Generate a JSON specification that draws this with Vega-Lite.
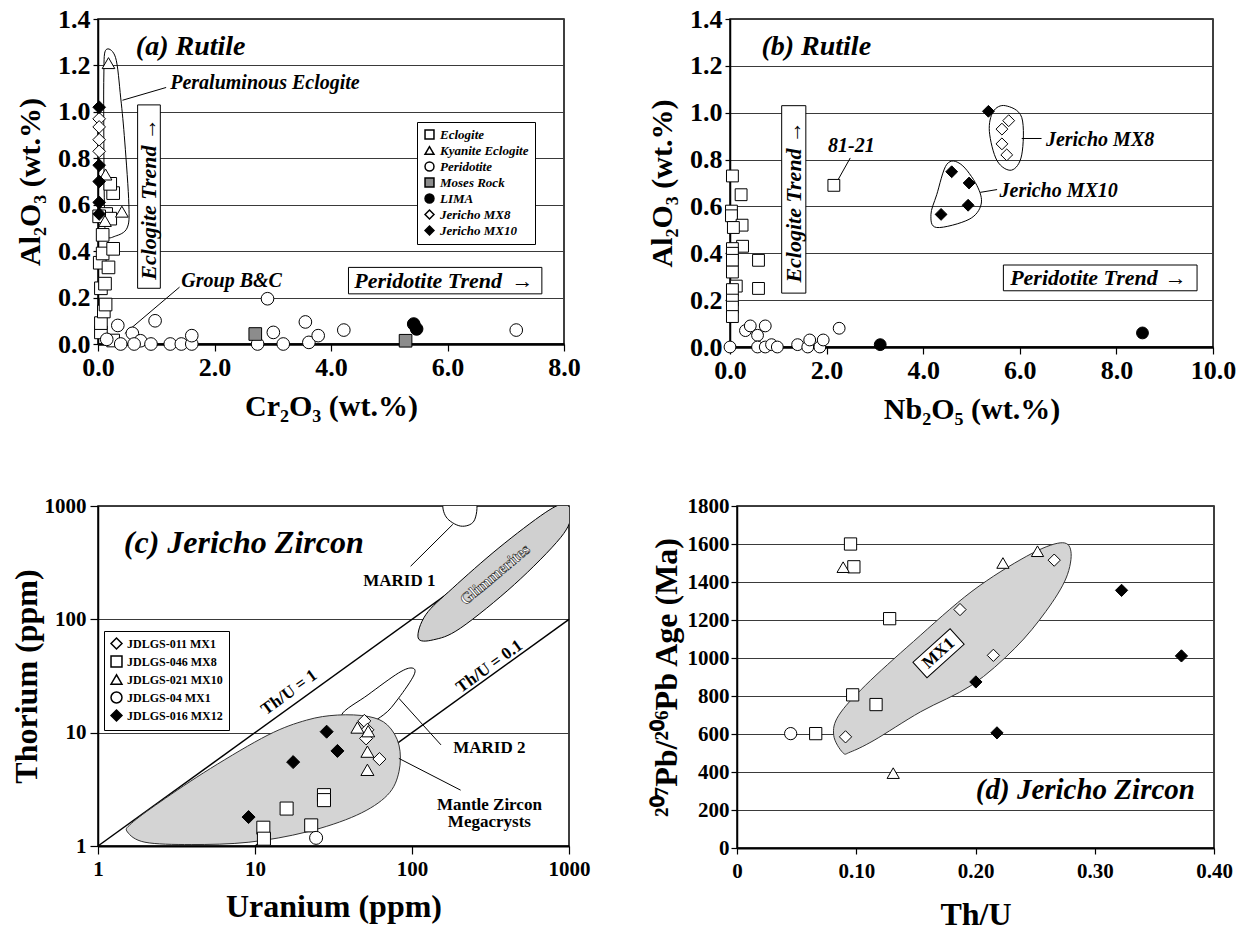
{
"$schema": "https://vega.github.io/schema/vega-lite/v6.json",
"background": "white",
"padding": {"left": 9, "top": 5, "right": 5, "bottom": 3},
"config": {
 "font": "Liberation Serif",
 "view": {"stroke": "black", "strokeWidth": 1.5},
 "axis": {"labelFont": "Liberation Serif", "titleFont": "Liberation Serif", "labelFontWeight": "bold", "titleFontWeight": "bold", "labelColor": "black", "titleColor": "black", "domainColor": "black", "tickColor": "black", "gridColor": "#3a3a3a", "gridWidth": 1, "gridOpacity": 1, "domainWidth": 1.5, "tickWidth": 1.2, "labelFlush": false, "labelOverlap": false},
 "text": {"font": "Liberation Serif", "fontWeight": "bold", "baseline": "middle", "color": "black"}
},
"resolve": {"scale": {"x": "independent", "y": "independent", "shape": "independent", "fill": "independent"}, "legend": {"shape": "independent", "fill": "independent"}},
"spacing": 69,
"vconcat": [
{
 "spacing": 65,
 "resolve": {"scale": {"x": "independent", "y": "independent", "shape": "independent", "fill": "independent"}, "legend": {"shape": "independent", "fill": "independent"}},
 "hconcat": [
 {
  "width": 466, "height": 325,
  "layer": [
   {
    "data": {"values": [{"x": 0.68, "x2": 1.07, "y": 0.24, "y2": 1.03}, {"x": 4.3, "x2": 7.62, "y": 0.216, "y2": 0.33}]},
    "mark": {"type": "rect", "fill": "white", "stroke": "black", "strokeWidth": 1},
    "encoding": {
     "x": {"field": "x", "type": "quantitative", "scale": {"domain": [0, 8], "nice": false, "zero": false}, "axis": {"title": "Cr₂O₃ (wt.%)", "values": [0, 2, 4, 6, 8], "format": ".1f", "grid": false, "labelFontSize": 26, "titleFontSize": 30, "tickSize": 7, "labelPadding": 3, "titlePadding": 11, "tickCount": 20, "domainWidth": 2.5}},
     "x2": {"field": "x2"},
     "y": {"field": "y", "type": "quantitative", "scale": {"domain": [0, 1.4], "nice": false}, "axis": {"title": "Al₂O₃ (wt.%)", "values": [0, 0.2, 0.4, 0.6, 0.8, 1, 1.2, 1.4], "format": ".1f", "grid": true, "labelFontSize": 26, "titleFontSize": 30, "tickSize": 5, "labelPadding": 3, "titlePadding": 12, "tickCount": 20}},
     "y2": {"field": "y2"}
    }
   },
   {
    "data": {"values": [{"x": 0.13, "y": 1.265, "i": 1}, {"x": 0.3, "y": 1.235, "i": 2}, {"x": 0.39, "y": 1.06, "i": 3}, {"x": 0.46, "y": 0.87, "i": 4}, {"x": 0.53, "y": 0.6, "i": 5}, {"x": 0.5, "y": 0.5, "i": 6}, {"x": 0.3, "y": 0.465, "i": 7}, {"x": 0.14, "y": 0.47, "i": 8}, {"x": 0.11, "y": 0.6, "i": 9}, {"x": 0.1, "y": 0.9, "i": 10}, {"x": 0.1, "y": 1.15, "i": 11}]},
    "mark": {"type": "line", "interpolate": "cardinal-closed", "stroke": "black", "strokeWidth": 1},
    "encoding": {"x": {"field": "x", "type": "quantitative"}, "y": {"field": "y", "type": "quantitative"}, "order": {"field": "i", "type": "quantitative"}}
   },
   {
    "data": {"values": [{"x": 0.42, "y": 1.05, "x2": 1.17, "y2": 1.105}, {"x": 0.46, "y": 0.045, "x2": 1.4, "y2": 0.245}]},
    "mark": {"type": "rule", "stroke": "black", "strokeWidth": 1},
    "encoding": {"x": {"field": "x", "type": "quantitative"}, "y": {"field": "y", "type": "quantitative"}, "x2": {"field": "x2"}, "y2": {"field": "y2"}}
   },
   {
    "data": {"values": [
     {"x": 0.05, "y": 0.05, "g": "Eclogite"}, {"x": 0.05, "y": 0.09, "g": "Eclogite"}, {"x": 0.1, "y": 0.14, "g": "Eclogite"}, {"x": 0.13, "y": 0.17, "g": "Eclogite"}, {"x": 0.05, "y": 0.24, "g": "Eclogite"}, {"x": 0.12, "y": 0.26, "g": "Eclogite"}, {"x": 0.03, "y": 0.35, "g": "Eclogite"}, {"x": 0.18, "y": 0.33, "g": "Eclogite"}, {"x": 0.08, "y": 0.39, "g": "Eclogite"}, {"x": 0.26, "y": 0.41, "g": "Eclogite"}, {"x": 0.08, "y": 0.47, "g": "Eclogite"}, {"x": 0.14, "y": 0.56, "g": "Eclogite"}, {"x": 0.21, "y": 0.54, "g": "Eclogite"}, {"x": 0.26, "y": 0.65, "g": "Eclogite"}, {"x": 0.21, "y": 0.69, "g": "Eclogite"}, {"x": 0.26, "y": 0.015, "g": "Eclogite"}, {"x": 0.02, "y": 0.55, "g": "Eclogite"},
     {"x": 0.18, "y": 1.21, "g": "Kyanite Eclogite"}, {"x": 0.41, "y": 0.57, "g": "Kyanite Eclogite"}, {"x": 0.13, "y": 0.73, "g": "Kyanite Eclogite"}, {"x": 0.12, "y": 0.53, "g": "Kyanite Eclogite"},
     {"x": 0.34, "y": 0.08, "g": "Peridotite"}, {"x": 0.98, "y": 0.1, "g": "Peridotite"}, {"x": 2.91, "y": 0.195, "g": "Peridotite"}, {"x": 0.59, "y": 0.046, "g": "Peridotite"}, {"x": 0.73, "y": 0.014, "g": "Peridotite"}, {"x": 0.91, "y": 0.0, "g": "Peridotite"}, {"x": 0.39, "y": 0.0, "g": "Peridotite"}, {"x": 0.62, "y": 0.0, "g": "Peridotite"}, {"x": 1.24, "y": 0.0, "g": "Peridotite"}, {"x": 1.43, "y": 0.0, "g": "Peridotite"}, {"x": 1.61, "y": 0.0, "g": "Peridotite"}, {"x": 1.61, "y": 0.036, "g": "Peridotite"}, {"x": 2.74, "y": 0.0, "g": "Peridotite"}, {"x": 3.01, "y": 0.05, "g": "Peridotite"}, {"x": 3.18, "y": 0.0, "g": "Peridotite"}, {"x": 3.56, "y": 0.095, "g": "Peridotite"}, {"x": 3.62, "y": 0.007, "g": "Peridotite"}, {"x": 3.78, "y": 0.036, "g": "Peridotite"}, {"x": 4.22, "y": 0.06, "g": "Peridotite"}, {"x": 7.18, "y": 0.06, "g": "Peridotite"}, {"x": 0.15, "y": 0.02, "g": "Peridotite"},
     {"x": 2.7, "y": 0.043, "g": "Moses Rock"}, {"x": 5.28, "y": 0.014, "g": "Moses Rock"},
     {"x": 5.42, "y": 0.086, "g": "LIMA"}, {"x": 5.47, "y": 0.065, "g": "LIMA"},
     {"x": 0.02, "y": 0.97, "g": "Jericho MX8"}, {"x": 0.02, "y": 0.935, "g": "Jericho MX8"}, {"x": 0.02, "y": 0.88, "g": "Jericho MX8"}, {"x": 0.02, "y": 0.83, "g": "Jericho MX8"},
     {"x": 0.02, "y": 1.02, "g": "Jericho MX10"}, {"x": 0.02, "y": 0.77, "g": "Jericho MX10"}, {"x": 0.02, "y": 0.7, "g": "Jericho MX10"}, {"x": 0.02, "y": 0.61, "g": "Jericho MX10"}, {"x": 0.02, "y": 0.56, "g": "Jericho MX10"}
    ]},
    "mark": {"type": "point", "filled": true, "stroke": "black", "strokeWidth": 1, "opacity": 1, "size": 160},
    "encoding": {
     "x": {"field": "x", "type": "quantitative"},
     "y": {"field": "y", "type": "quantitative"},
     "shape": {"field": "g", "type": "nominal", "scale": {"domain": ["Eclogite", "Kyanite Eclogite", "Peridotite", "Moses Rock", "LIMA", "Jericho MX8", "Jericho MX10"], "range": ["square", "triangle-up", "circle", "square", "circle", "diamond", "diamond"]},
      "legend": {"orient": "none", "legendX": 319, "legendY": 103, "title": null, "strokeColor": "black", "fillColor": "white", "padding": 6, "labelFont": "Liberation Serif", "labelFontSize": 13, "labelFontStyle": "italic", "labelFontWeight": "bold", "labelColor": "black", "symbolSize": 80, "rowPadding": 1, "cornerRadius": 0, "encode": {"symbols": {"update": {"stroke": {"value": "black"}, "strokeWidth": {"value": 1}}}}}},
     "fill": {"field": "g", "type": "nominal", "scale": {"domain": ["Eclogite", "Kyanite Eclogite", "Peridotite", "Moses Rock", "LIMA", "Jericho MX8", "Jericho MX10"], "range": ["white", "white", "white", "#8c8c8c", "black", "white", "black"]},
      "legend": {"orient": "none", "legendX": 319, "legendY": 103, "title": null, "strokeColor": "black", "fillColor": "white", "padding": 6, "labelFont": "Liberation Serif", "labelFontSize": 13, "labelFontStyle": "italic", "labelFontWeight": "bold", "labelColor": "black", "symbolSize": 80, "rowPadding": 1, "cornerRadius": 0, "encode": {"symbols": {"update": {"stroke": {"value": "black"}, "strokeWidth": {"value": 1}}}}}}
    }
   },
   {
    "data": {"values": [{"x": 0.65, "y": 1.28, "t": "(a) Rutile"}]},
    "mark": {"type": "text", "fontSize": 28, "fontStyle": "italic", "fontWeight": "bold", "align": "left"},
    "encoding": {"x": {"field": "x", "type": "quantitative"}, "y": {"field": "y", "type": "quantitative"}, "text": {"field": "t"}}
   },
   {
    "data": {"values": [{"x": 1.24, "y": 1.125, "t": "Peraluminous Eclogite"}, {"x": 1.43, "y": 0.27, "t": "Group B&C"}]},
    "mark": {"type": "text", "fontSize": 20, "fontStyle": "italic", "fontWeight": "bold", "align": "left"},
    "encoding": {"x": {"field": "x", "type": "quantitative"}, "y": {"field": "y", "type": "quantitative"}, "text": {"field": "t"}}
   },
   {
    "data": {"values": [{"x": 4.4, "y": 0.273, "t": "Peridotite Trend"}, {"x": 7.1, "y": 0.273, "t": "→"}]},
    "mark": {"type": "text", "fontSize": 22, "fontStyle": "italic", "fontWeight": "bold", "align": "left"},
    "encoding": {"x": {"field": "x", "type": "quantitative"}, "y": {"field": "y", "type": "quantitative"}, "text": {"field": "t"}}
   },
   {
    "data": {"values": [{"x": 0.875, "y": 0.625, "t": "Eclogite Trend   →"}]},
    "mark": {"type": "text", "fontSize": 22, "fontStyle": "italic", "fontWeight": "bold", "align": "center", "angle": 270},
    "encoding": {"x": {"field": "x", "type": "quantitative"}, "y": {"field": "y", "type": "quantitative"}, "text": {"field": "t"}}
   }
  ]
 },
 {
  "width": 483, "height": 328,
  "layer": [
   {
    "data": {"values": [{"x": 1.07, "x2": 1.57, "y": 0.23, "y2": 1.03}, {"x": 5.66, "x2": 9.67, "y": 0.24, "y2": 0.35}]},
    "mark": {"type": "rect", "fill": "white", "stroke": "black", "strokeWidth": 1},
    "encoding": {
     "x": {"field": "x", "type": "quantitative", "scale": {"domain": [0, 10], "nice": false, "zero": false}, "axis": {"title": "Nb₂O₅ (wt.%)", "values": [0, 2, 4, 6, 8, 10], "format": ".1f", "grid": false, "labelFontSize": 26, "titleFontSize": 30, "tickSize": 7, "labelPadding": 3, "titlePadding": 11, "tickCount": 20, "domainWidth": 2.5}},
     "x2": {"field": "x2"},
     "y": {"field": "y", "type": "quantitative", "scale": {"domain": [0, 1.4], "nice": false}, "axis": {"title": "Al₂O₃ (wt.%)", "values": [0, 0.2, 0.4, 0.6, 0.8, 1, 1.2, 1.4], "format": ".1f", "grid": true, "labelFontSize": 26, "titleFontSize": 30, "tickSize": 5, "labelPadding": 3, "titlePadding": 12, "tickCount": 20}},
     "y2": {"field": "y2"}
    }
   },
   {
    "data": {"values": [
     {"x": 5.7, "y": 1.03, "i": 1, "s": "MX8"}, {"x": 6.04, "y": 0.98, "i": 2, "s": "MX8"}, {"x": 6.04, "y": 0.82, "i": 3, "s": "MX8"}, {"x": 5.83, "y": 0.755, "i": 4, "s": "MX8"}, {"x": 5.53, "y": 0.795, "i": 5, "s": "MX8"}, {"x": 5.37, "y": 0.92, "i": 6, "s": "MX8"}, {"x": 5.45, "y": 1.005, "i": 7, "s": "MX8"},
     {"x": 4.49, "y": 0.78, "i": 1, "s": "MX10"}, {"x": 4.78, "y": 0.78, "i": 2, "s": "MX10"}, {"x": 5.11, "y": 0.69, "i": 3, "s": "MX10"}, {"x": 5.2, "y": 0.61, "i": 4, "s": "MX10"}, {"x": 4.95, "y": 0.545, "i": 5, "s": "MX10"}, {"x": 4.28, "y": 0.51, "i": 6, "s": "MX10"}, {"x": 4.16, "y": 0.565, "i": 7, "s": "MX10"}, {"x": 4.28, "y": 0.65, "i": 8, "s": "MX10"}
    ]},
    "mark": {"type": "line", "interpolate": "cardinal-closed", "stroke": "black", "strokeWidth": 1},
    "encoding": {"x": {"field": "x", "type": "quantitative"}, "y": {"field": "y", "type": "quantitative"}, "order": {"field": "i", "type": "quantitative"}, "detail": {"field": "s"}}
   },
   {
    "data": {"values": [{"x": 2.24, "y": 0.715, "x2": 2.49, "y2": 0.807}, {"x": 6.04, "y": 0.89, "x2": 6.45, "y2": 0.89}, {"x": 5.18, "y": 0.66, "x2": 5.53, "y2": 0.672}]},
    "mark": {"type": "rule", "stroke": "black", "strokeWidth": 1},
    "encoding": {"x": {"field": "x", "type": "quantitative"}, "y": {"field": "y", "type": "quantitative"}, "x2": {"field": "x2"}, "y2": {"field": "y2"}}
   },
   {
    "data": {"values": [
     {"x": 0.05, "y": 0.73, "g": "Eclogite"}, {"x": 0.23, "y": 0.65, "g": "Eclogite"}, {"x": 0.03, "y": 0.58, "g": "Eclogite"}, {"x": 0.03, "y": 0.56, "g": "Eclogite"}, {"x": 0.25, "y": 0.52, "g": "Eclogite"}, {"x": 0.07, "y": 0.51, "g": "Eclogite"}, {"x": 0.26, "y": 0.43, "g": "Eclogite"}, {"x": 0.05, "y": 0.42, "g": "Eclogite"}, {"x": 0.05, "y": 0.4, "g": "Eclogite"}, {"x": 0.05, "y": 0.37, "g": "Eclogite"}, {"x": 0.59, "y": 0.37, "g": "Eclogite"}, {"x": 0.05, "y": 0.32, "g": "Eclogite"}, {"x": 0.13, "y": 0.26, "g": "Eclogite"}, {"x": 0.59, "y": 0.25, "g": "Eclogite"}, {"x": 0.05, "y": 0.245, "g": "Eclogite"}, {"x": 0.05, "y": 0.2, "g": "Eclogite"}, {"x": 0.05, "y": 0.17, "g": "Eclogite"}, {"x": 0.05, "y": 0.13, "g": "Eclogite"}, {"x": 2.15, "y": 0.69, "g": "Eclogite"},
     {"x": 0.0, "y": 0.0, "g": "Peridotite"}, {"x": 0.32, "y": 0.07, "g": "Peridotite"}, {"x": 0.42, "y": 0.09, "g": "Peridotite"}, {"x": 0.73, "y": 0.09, "g": "Peridotite"}, {"x": 0.57, "y": 0.05, "g": "Peridotite"}, {"x": 0.57, "y": 0.0, "g": "Peridotite"}, {"x": 0.73, "y": 0.0, "g": "Peridotite"}, {"x": 0.86, "y": 0.01, "g": "Peridotite"}, {"x": 0.98, "y": 0.0, "g": "Peridotite"}, {"x": 1.4, "y": 0.01, "g": "Peridotite"}, {"x": 1.61, "y": 0.0, "g": "Peridotite"}, {"x": 1.65, "y": 0.03, "g": "Peridotite"}, {"x": 1.86, "y": 0.0, "g": "Peridotite"}, {"x": 1.93, "y": 0.03, "g": "Peridotite"}, {"x": 2.26, "y": 0.08, "g": "Peridotite"},
     {"x": 3.11, "y": 0.01, "g": "LIMA"}, {"x": 8.54, "y": 0.06, "g": "LIMA"},
     {"x": 5.35, "y": 1.006, "g": "Jericho MX10"}, {"x": 4.59, "y": 0.748, "g": "Jericho MX10"}, {"x": 4.95, "y": 0.7, "g": "Jericho MX10"}, {"x": 4.93, "y": 0.605, "g": "Jericho MX10"}, {"x": 4.37, "y": 0.566, "g": "Jericho MX10"},
     {"x": 5.77, "y": 0.966, "g": "Jericho MX8"}, {"x": 5.63, "y": 0.93, "g": "Jericho MX8"}, {"x": 5.63, "y": 0.867, "g": "Jericho MX8"}, {"x": 5.73, "y": 0.82, "g": "Jericho MX8"}
    ]},
    "mark": {"type": "point", "filled": true, "stroke": "black", "strokeWidth": 1, "opacity": 1, "size": 140},
    "encoding": {
     "x": {"field": "x", "type": "quantitative"},
     "y": {"field": "y", "type": "quantitative"},
     "shape": {"field": "g", "type": "nominal", "scale": {"domain": ["Eclogite", "Kyanite Eclogite", "Peridotite", "Moses Rock", "LIMA", "Jericho MX8", "Jericho MX10"], "range": ["square", "triangle-up", "circle", "square", "circle", "diamond", "diamond"]}, "legend": null},
     "fill": {"field": "g", "type": "nominal", "scale": {"domain": ["Eclogite", "Kyanite Eclogite", "Peridotite", "Moses Rock", "LIMA", "Jericho MX8", "Jericho MX10"], "range": ["white", "white", "white", "#8c8c8c", "black", "white", "black"]}, "legend": null}
    }
   },
   {
    "data": {"values": [{"x": 0.65, "y": 1.28, "t": "(b) Rutile"}]},
    "mark": {"type": "text", "fontSize": 28, "fontStyle": "italic", "fontWeight": "bold", "align": "left"},
    "encoding": {"x": {"field": "x", "type": "quantitative"}, "y": {"field": "y", "type": "quantitative"}, "text": {"field": "t"}}
   },
   {
    "data": {"values": [{"x": 2.03, "y": 0.857, "t": "81-21"}, {"x": 6.54, "y": 0.885, "t": "Jericho MX8"}, {"x": 5.58, "y": 0.665, "t": "Jericho MX10"}]},
    "mark": {"type": "text", "fontSize": 20, "fontStyle": "italic", "fontWeight": "bold", "align": "left"},
    "encoding": {"x": {"field": "x", "type": "quantitative"}, "y": {"field": "y", "type": "quantitative"}, "text": {"field": "t"}}
   },
   {
    "data": {"values": [{"x": 5.8, "y": 0.295, "t": "Peridotite Trend"}, {"x": 9.0, "y": 0.295, "t": "→"}]},
    "mark": {"type": "text", "fontSize": 22, "fontStyle": "italic", "fontWeight": "bold", "align": "left"},
    "encoding": {"x": {"field": "x", "type": "quantitative"}, "y": {"field": "y", "type": "quantitative"}, "text": {"field": "t"}}
   },
   {
    "data": {"values": [{"x": 1.32, "y": 0.62, "t": "Eclogite Trend   →"}]},
    "mark": {"type": "text", "fontSize": 22, "fontStyle": "italic", "fontWeight": "bold", "align": "center", "angle": 270},
    "encoding": {"x": {"field": "x", "type": "quantitative"}, "y": {"field": "y", "type": "quantitative"}, "text": {"field": "t"}}
   }
  ]
 }
 ]
},
{
 "spacing": 58,
 "resolve": {"scale": {"x": "independent", "y": "independent", "shape": "independent", "fill": "independent"}, "legend": {"shape": "independent", "fill": "independent"}},
 "hconcat": [
 {
  "width": 471, "height": 340,
  "layer": [
   {
    "data": {"values": [{"x": 1, "y": 1, "x2": 1000, "y2": 1000}, {"x": 10, "y": 1, "x2": 1000, "y2": 100}]},
    "mark": {"type": "rule", "stroke": "black", "strokeWidth": 1.5},
    "encoding": {
     "x": {"field": "x", "type": "quantitative", "scale": {"type": "log", "domain": [1, 1000], "nice": false}, "axis": {"title": "Uranium (ppm)", "values": [1, 10, 100, 1000], "format": "d", "grid": false, "labelFontSize": 21, "titleFontSize": 32, "tickSize": 8, "labelPadding": 4, "titlePadding": 12, "tickCount": 20, "domainWidth": 2}},
     "y": {"field": "y", "type": "quantitative", "scale": {"type": "log", "domain": [1, 1000], "nice": false}, "axis": {"title": "Thorium (ppm)", "values": [1, 10, 100, 1000], "format": "d", "grid": true, "labelFontSize": 21, "titleFontSize": 32, "tickSize": 8, "labelPadding": 4, "titlePadding": 1, "tickCount": 20}},
     "x2": {"field": "x2"}, "y2": {"field": "y2"}
    }
   },
   {
    "data": {"values": [{"x": 35.6, "y": 14.3, "i": 1}, {"x": 52.5, "y": 21.6, "i": 2}, {"x": 82, "y": 33.6, "i": 3}, {"x": 100, "y": 37.2, "i": 4}, {"x": 103, "y": 32.3, "i": 5}, {"x": 82, "y": 20.1, "i": 6}, {"x": 65.6, "y": 14.3, "i": 7}, {"x": 45, "y": 11, "i": 8}]},
    "mark": {"type": "line", "interpolate": "cardinal-closed", "fill": "white", "stroke": "black", "strokeWidth": 1},
    "encoding": {"x": {"field": "x", "type": "quantitative"}, "y": {"field": "y", "type": "quantitative"}, "order": {"field": "i", "type": "quantitative"}}
   },
   {
    "data": {"values": [{"x": 1.54, "y": 1.33, "i": 1}, {"x": 1.99, "y": 1.08, "i": 2}, {"x": 3.92, "y": 1.03, "i": 3}, {"x": 9.14, "y": 1.08, "i": 4}, {"x": 21.3, "y": 1.33, "i": 5}, {"x": 44.4, "y": 1.87, "i": 6}, {"x": 69.7, "y": 2.81, "i": 7}, {"x": 82.6, "y": 4.52, "i": 8}, {"x": 82.6, "y": 7.78, "i": 9}, {"x": 69.7, "y": 11.7, "i": 10}, {"x": 52.6, "y": 13.9, "i": 11}, {"x": 33.5, "y": 14.3, "i": 12}, {"x": 21.3, "y": 12.9, "i": 13}, {"x": 12.1, "y": 9.53, "i": 14}, {"x": 5.2, "y": 4.83, "i": 15}, {"x": 2.49, "y": 2.45, "i": 16}, {"x": 1.63, "y": 1.58, "i": 17}]},
    "mark": {"type": "line", "interpolate": "cardinal-closed", "fill": "#d4d4d4", "stroke": "#333", "strokeWidth": 1},
    "encoding": {"x": {"field": "x", "type": "quantitative"}, "y": {"field": "y", "type": "quantitative"}, "order": {"field": "i", "type": "quantitative"}}
   },
   {
    "data": {"values": [{"x": 109.5, "y": 68.4, "i": 1}, {"x": 122.5, "y": 110, "i": 2}, {"x": 182, "y": 189, "i": 3}, {"x": 358, "y": 428, "i": 4}, {"x": 705, "y": 873, "i": 5}, {"x": 935, "y": 1035, "i": 6}, {"x": 1035, "y": 844, "i": 7}, {"x": 883, "y": 525, "i": 8}, {"x": 449, "y": 203, "i": 9}, {"x": 204, "y": 83.8, "i": 10}, {"x": 137, "y": 66, "i": 11}]},
    "mark": {"type": "line", "interpolate": "cardinal-closed", "fill": "#d0d0d0", "stroke": "black", "strokeWidth": 1, "clip": true},
    "encoding": {"x": {"field": "x", "type": "quantitative"}, "y": {"field": "y", "type": "quantitative"}, "order": {"field": "i", "type": "quantitative"}}
   },
   {
    "data": {"values": [{"x": 160, "y": 1100, "i": 1}, {"x": 165, "y": 800, "i": 2}, {"x": 204, "y": 665, "i": 3}, {"x": 248, "y": 736, "i": 4}, {"x": 256, "y": 1100, "i": 5}, {"x": 208, "y": 1300, "i": 6}]},
    "mark": {"type": "line", "interpolate": "cardinal-closed", "fill": "white", "stroke": "black", "strokeWidth": 1, "clip": true},
    "encoding": {"x": {"field": "x", "type": "quantitative"}, "y": {"field": "y", "type": "quantitative"}, "order": {"field": "i", "type": "quantitative"}}
   },
   {
    "data": {"values": [{"x": 182, "y": 689, "x2": 98, "y2": 294}, {"x": 82.5, "y": 20.1, "x2": 153, "y2": 7.8}, {"x": 82.5, "y": 5.93, "x2": 204, "y2": 3.11}]},
    "mark": {"type": "rule", "stroke": "black", "strokeWidth": 1},
    "encoding": {"x": {"field": "x", "type": "quantitative"}, "y": {"field": "y", "type": "quantitative"}, "x2": {"field": "x2"}, "y2": {"field": "y2"}}
   },
   {
    "data": {"values": [
     {"x": 49.7, "y": 12.7, "g": "JDLGS-011 MX1"}, {"x": 52, "y": 10.6, "g": "JDLGS-011 MX1"}, {"x": 51, "y": 8.9, "g": "JDLGS-011 MX1"}, {"x": 62, "y": 5.85, "g": "JDLGS-011 MX1"},
     {"x": 15.9, "y": 2.14, "g": "JDLGS-046 MX8"}, {"x": 27.5, "y": 2.81, "g": "JDLGS-046 MX8"}, {"x": 27.5, "y": 2.54, "g": "JDLGS-046 MX8"}, {"x": 11.3, "y": 1.45, "g": "JDLGS-046 MX8"}, {"x": 11.4, "y": 1.16, "g": "JDLGS-046 MX8"}, {"x": 22.8, "y": 1.52, "g": "JDLGS-046 MX8"},
     {"x": 44.9, "y": 11.1, "g": "JDLGS-021 MX10"}, {"x": 52.6, "y": 10.3, "g": "JDLGS-021 MX10"}, {"x": 52, "y": 6.8, "g": "JDLGS-021 MX10"}, {"x": 52, "y": 4.7, "g": "JDLGS-021 MX10"},
     {"x": 24.5, "y": 1.18, "g": "JDLGS-04 MX1"},
     {"x": 9.1, "y": 1.8, "g": "JDLGS-016 MX12"}, {"x": 17.5, "y": 5.5, "g": "JDLGS-016 MX12"}, {"x": 28.6, "y": 10.2, "g": "JDLGS-016 MX12"}, {"x": 33.5, "y": 6.9, "g": "JDLGS-016 MX12"}
    ]},
    "mark": {"type": "point", "filled": true, "stroke": "black", "strokeWidth": 1, "opacity": 1, "size": 170},
    "encoding": {
     "x": {"field": "x", "type": "quantitative"},
     "y": {"field": "y", "type": "quantitative"},
     "shape": {"field": "g", "type": "nominal", "scale": {"domain": ["JDLGS-011 MX1", "JDLGS-046 MX8", "JDLGS-021 MX10", "JDLGS-04 MX1", "JDLGS-016 MX12"], "range": ["diamond", "square", "triangle-up", "circle", "diamond"]},
      "legend": {"orient": "none", "legendX": 6, "legendY": 125, "title": null, "strokeColor": "black", "fillColor": "white", "padding": 6, "labelFont": "Liberation Serif", "labelFontSize": 12, "labelFontWeight": "bold", "labelColor": "black", "symbolSize": 120, "rowPadding": 1, "cornerRadius": 0, "encode": {"symbols": {"update": {"stroke": {"value": "black"}, "strokeWidth": {"value": 1}}}}}},
     "fill": {"field": "g", "type": "nominal", "scale": {"domain": ["JDLGS-011 MX1", "JDLGS-046 MX8", "JDLGS-021 MX10", "JDLGS-04 MX1", "JDLGS-016 MX12"], "range": ["white", "white", "white", "white", "black"]},
      "legend": {"orient": "none", "legendX": 6, "legendY": 125, "title": null, "strokeColor": "black", "fillColor": "white", "padding": 6, "labelFont": "Liberation Serif", "labelFontSize": 12, "labelFontWeight": "bold", "labelColor": "black", "symbolSize": 120, "rowPadding": 1, "cornerRadius": 0, "encode": {"symbols": {"update": {"stroke": {"value": "black"}, "strokeWidth": {"value": 1}}}}}}
    }
   },
   {
    "data": {"values": [{"x": 1.46, "y": 473, "t": "(c) Jericho Zircon"}]},
    "mark": {"type": "text", "fontSize": 32, "fontStyle": "italic", "fontWeight": "bold", "align": "left"},
    "encoding": {"x": {"field": "x", "type": "quantitative"}, "y": {"field": "y", "type": "quantitative"}, "text": {"field": "t"}}
   },
   {
    "data": {"values": [{"x": 83, "y": 217, "t": "MARID 1"}, {"x": 311, "y": 7.3, "t": "MARID 2"}, {"x": 311, "y": 2.32, "t": "Mantle Zircon"}, {"x": 311, "y": 1.63, "t": "Megacrysts"}]},
    "mark": {"type": "text", "fontSize": 17, "fontWeight": "bold", "align": "center"},
    "encoding": {"x": {"field": "x", "type": "quantitative"}, "y": {"field": "y", "type": "quantitative"}, "text": {"field": "t"}}
   },
   {
    "data": {"values": [{"x": 16.5, "y": 22.6, "t": "Th/U = 1"}, {"x": 311, "y": 38.4, "t": "Th/U = 0.1"}]},
    "mark": {"type": "text", "fontSize": 17, "fontWeight": "bold", "align": "center", "angle": -36},
    "encoding": {"x": {"field": "x", "type": "quantitative"}, "y": {"field": "y", "type": "quantitative"}, "text": {"field": "t"}}
   },
   {
    "data": {"values": [{"x": 338, "y": 248, "t": "Glimmerites"}]},
    "mark": {"type": "text", "fontSize": 16, "fontWeight": "bold", "align": "center", "angle": -40, "color": "white", "stroke": "#222", "strokeWidth": 0.6},
    "encoding": {"x": {"field": "x", "type": "quantitative"}, "y": {"field": "y", "type": "quantitative"}, "text": {"field": "t"}}
   }
  ]
 },
 {
  "width": 477, "height": 342,
  "layer": [
   {
    "data": {"values": [{"x": 0.0887, "y": 502, "i": 1}, {"x": 0.0811, "y": 593, "i": 2}, {"x": 0.0854, "y": 699, "i": 3}, {"x": 0.108, "y": 858, "i": 4}, {"x": 0.148, "y": 1087, "i": 5}, {"x": 0.197, "y": 1351, "i": 6}, {"x": 0.243, "y": 1536, "i": 7}, {"x": 0.271, "y": 1606, "i": 8}, {"x": 0.28, "y": 1562, "i": 9}, {"x": 0.276, "y": 1421, "i": 10}, {"x": 0.259, "y": 1245, "i": 11}, {"x": 0.233, "y": 1051, "i": 12}, {"x": 0.197, "y": 858, "i": 13}, {"x": 0.154, "y": 717, "i": 14}, {"x": 0.115, "y": 567, "i": 15}, {"x": 0.095, "y": 505, "i": 16}]},
    "mark": {"type": "line", "interpolate": "cardinal-closed", "fill": "#d4d4d4", "stroke": "#333", "strokeWidth": 1},
    "encoding": {
     "x": {"field": "x", "type": "quantitative", "scale": {"domain": [0, 0.4], "nice": false}, "axis": {"title": "Th/U", "values": [0, 0.1, 0.2, 0.3, 0.4], "labelExpr": "datum.value == 0 ? '0' : format(datum.value, '.2f')", "grid": false, "labelFontSize": 21, "titleFontSize": 32, "tickSize": 6, "labelPadding": 6, "titlePadding": 18, "tickCount": 20, "domainWidth": 2}},
     "y": {"field": "y", "type": "quantitative", "scale": {"domain": [0, 1800], "nice": false}, "axis": {"title": "²⁰⁷Pb/²⁰⁶Pb Age (Ma)", "values": [0, 200, 400, 600, 800, 1000, 1200, 1400, 1600, 1800], "format": "d", "grid": true, "labelFontSize": 21, "titleFontSize": 32, "tickSize": 6, "labelPadding": 2, "titlePadding": 4, "tickCount": 20}},
     "order": {"field": "i", "type": "quantitative"}
    }
   },
   {
    "data": {"values": [
     {"x": 0.0952, "y": 1600, "g": "JDLGS-046 MX8"}, {"x": 0.098, "y": 1480, "g": "JDLGS-046 MX8"}, {"x": 0.128, "y": 1207, "g": "JDLGS-046 MX8"}, {"x": 0.097, "y": 806, "g": "JDLGS-046 MX8"}, {"x": 0.1166, "y": 755, "g": "JDLGS-046 MX8"}, {"x": 0.066, "y": 602, "g": "JDLGS-046 MX8"},
     {"x": 0.089, "y": 1478, "g": "JDLGS-021 MX10"}, {"x": 0.223, "y": 1500, "g": "JDLGS-021 MX10"}, {"x": 0.252, "y": 1562, "g": "JDLGS-021 MX10"}, {"x": 0.131, "y": 394, "g": "JDLGS-021 MX10"},
     {"x": 0.091, "y": 585, "g": "JDLGS-011 MX1"}, {"x": 0.187, "y": 1255, "g": "JDLGS-011 MX1"}, {"x": 0.215, "y": 1014, "g": "JDLGS-011 MX1"}, {"x": 0.266, "y": 1515, "g": "JDLGS-011 MX1"},
     {"x": 0.045, "y": 602, "g": "JDLGS-04 MX1"},
     {"x": 0.3225, "y": 1356, "g": "JDLGS-016 MX12"}, {"x": 0.3727, "y": 1011, "g": "JDLGS-016 MX12"}, {"x": 0.2003, "y": 874, "g": "JDLGS-016 MX12"}, {"x": 0.218, "y": 606, "g": "JDLGS-016 MX12"}
    ]},
    "mark": {"type": "point", "filled": true, "stroke": "black", "strokeWidth": 1, "opacity": 1, "size": 150},
    "encoding": {
     "x": {"field": "x", "type": "quantitative"},
     "y": {"field": "y", "type": "quantitative"},
     "shape": {"field": "g", "type": "nominal", "scale": {"domain": ["JDLGS-011 MX1", "JDLGS-046 MX8", "JDLGS-021 MX10", "JDLGS-04 MX1", "JDLGS-016 MX12"], "range": ["diamond", "square", "triangle-up", "circle", "diamond"]}, "legend": null},
     "fill": {"field": "g", "type": "nominal", "scale": {"domain": ["JDLGS-011 MX1", "JDLGS-046 MX8", "JDLGS-021 MX10", "JDLGS-04 MX1", "JDLGS-016 MX12"], "range": ["white", "white", "white", "white", "black"]}, "legend": null}
    }
   },
   {
    "data": {"values": [{"x": 0.169, "y": 1025}]},
    "mark": {"type": "point", "shape": "M-1,-0.42L1,-0.42L1,0.42L-1,0.42Z", "size": 2500, "angle": -42, "filled": true, "fill": "white", "stroke": "black", "strokeWidth": 1, "opacity": 1},
    "encoding": {"x": {"field": "x", "type": "quantitative"}, "y": {"field": "y", "type": "quantitative"}}
   },
   {
    "data": {"values": [{"x": 0.169, "y": 1025, "t": "MX1"}]},
    "mark": {"type": "text", "fontSize": 17, "fontWeight": "bold", "align": "center", "angle": -42},
    "encoding": {"x": {"field": "x", "type": "quantitative"}, "y": {"field": "y", "type": "quantitative"}, "text": {"field": "t"}}
   },
   {
    "data": {"values": [{"x": 0.384, "y": 303, "t": "(d) Jericho Zircon"}]},
    "mark": {"type": "text", "fontSize": 29, "fontStyle": "italic", "fontWeight": "bold", "align": "right"},
    "encoding": {"x": {"field": "x", "type": "quantitative"}, "y": {"field": "y", "type": "quantitative"}, "text": {"field": "t"}}
   }
  ]
 }
 ]
}
]
}
